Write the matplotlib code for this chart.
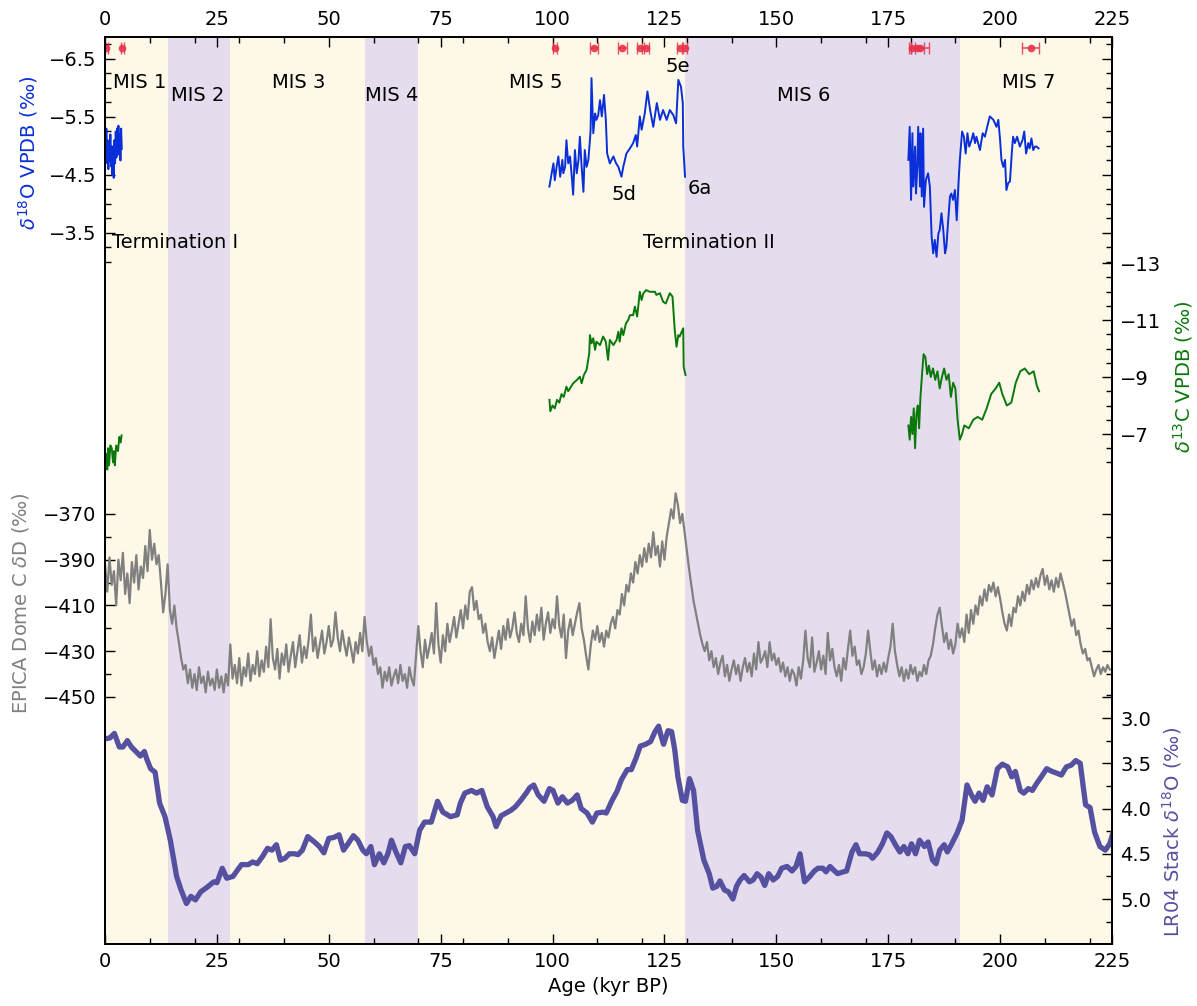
import matplotlib.pyplot as plt
import numpy as np
from matplotlib.ticker import FixedLocator, MultipleLocator, FormatStrFormatter
import matplotlib.transforms as mtrans

# --- speleothem d18O (three growth phases) ---
d18o_age_1 = [0.0, 0.15, 0.3, 0.45, 0.6, 0.75, 0.9, 1.05, 1.2, 1.35, 1.5, 1.65, 1.8, 1.95,
              2.1, 2.25, 2.4, 2.55, 2.7, 2.85, 3.0, 3.15, 3.3, 3.45, 3.6, 3.75]
d18o_val_1 = [-5.0, -4.7, -5.3, -4.8, -5.1, -4.6, -5.0, -4.75, -5.2, -4.65, -5.0, -4.5, -4.9, -4.45,
              -5.1, -4.7, -5.25, -4.8, -5.3, -4.85, -5.35, -4.9, -5.2, -4.75, -5.3, -4.95]
d18o_age_2 = [99.3, 99.8, 100.2, 100.5, 100.9, 101.3, 101.7, 102.2, 102.4, 102.8, 103.1, 103.5,
              103.9, 104.3, 104.6, 105.0, 105.4, 105.8, 106.1, 106.5, 106.9, 107.2, 107.6, 108.0,
              108.35, 108.5, 108.7, 109.1, 109.5, 109.8, 110.2, 110.6, 111.0, 111.5, 111.9, 112.2,
              112.8, 113.6, 114.2, 114.7, 115.4, 115.8, 116.5, 117.3, 118.0, 118.6, 118.9, 119.5,
              119.9, 120.6, 121.2, 121.8, 122.5, 123.3, 124.0, 124.7, 125.5, 126.2, 127.0, 127.6,
              128.1, 128.7, 129.1, 129.2, 129.6]
d18o_val_2 = [-4.30, -4.53, -4.70, -4.41, -4.64, -4.82, -4.47, -4.76, -4.53, -4.64, -5.10, -4.70,
              -4.82, -4.47, -4.16, -4.93, -4.53, -4.76, -5.16, -4.64, -4.21, -4.93, -4.64, -4.76,
              -5.10, -5.28, -6.17, -5.22, -5.56, -5.45, -5.53, -5.79, -5.51, -5.88, -5.45, -4.87,
              -4.70, -4.82, -4.70, -4.64, -4.47, -4.64, -4.87, -4.96, -5.05, -5.19, -4.99, -5.51,
              -5.28, -5.56, -5.94, -5.62, -5.33, -5.74, -5.45, -5.62, -5.45, -5.62, -5.53, -5.39,
              -6.14, -6.02, -5.74, -4.99, -4.47]
d18o_age_3 = [179.5, 179.8, 180.1, 180.4, 180.6, 181.0, 181.2, 181.5, 181.7, 182.1, 182.2, 182.5,
              182.8, 183.0, 183.4, 183.9, 184.3, 184.7, 185.05, 185.4, 185.8, 186.2, 186.5, 186.9,
              187.3, 187.7, 188.0, 188.4, 188.8, 189.1, 189.5, 189.9, 190.3, 190.7, 191.0, 191.5,
              191.9, 192.3, 192.7, 193.1, 193.6, 194.0, 194.4, 194.7, 195.5, 196.1, 196.6, 197.3,
              197.7, 198.5, 199.2, 199.6, 200.0, 200.3, 200.7, 201.1, 201.4, 201.8, 202.2, 202.6,
              202.9, 203.3, 203.8, 204.4, 205.0, 205.4, 205.8, 206.3, 206.6, 207.0, 207.4, 207.8,
              208.1, 208.6]
d18o_val_3 = [-4.76, -5.33, -4.07, -5.22, -4.30, -4.99, -4.18, -4.64, -5.33, -4.30, -5.22, -4.13,
              -5.30, -3.95, -4.41, -4.53, -4.30, -3.44, -3.15, -3.38, -3.09, -3.49, -3.55, -3.84,
              -3.55, -3.15, -3.27, -3.72, -4.13, -4.18, -4.07, -4.24, -3.72, -4.36, -4.76, -5.25,
              -5.16, -4.87, -5.22, -4.99, -5.10, -5.22, -5.05, -5.16, -4.93, -5.22, -5.16, -5.39,
              -5.51, -5.45, -5.33, -5.45, -5.10, -4.76, -4.64, -4.76, -4.24, -4.36, -4.39, -4.87,
              -5.16, -5.05, -5.16, -4.99, -5.10, -5.25, -4.87, -5.05, -4.96, -5.13, -4.93, -4.99,
              -4.99, -4.96]

# --- speleothem d13C ---
d13c_age_1 = [0.4, 0.5, 0.7, 0.9, 1.2, 1.5, 1.8, 2.0, 2.2, 2.5, 2.9, 3.2, 3.5, 3.7]
d13c_val_1 = [-6.3, -5.75, -6.5, -5.9, -6.6, -6.5, -6.0, -6.4, -5.9, -6.6, -6.4, -6.9, -6.7, -6.95]
d13c_age_2 = [99.3, 99.5, 100.0, 100.5, 101.0, 101.5, 102.0, 102.5, 103.1, 103.5, 104.6, 105.4,
              106.1, 106.5, 107.0, 107.6, 108.2, 108.35, 108.7, 109.1, 109.5, 109.8, 110.6, 111.3,
              111.9, 112.4, 112.8, 113.6, 114.3, 114.7, 115.0, 115.4, 115.8, 116.4, 116.9, 117.3,
              118.0, 118.4, 118.9, 119.5, 119.9, 120.3, 120.9, 121.7, 122.9, 123.2, 124.0, 124.7,
              125.3, 126.2, 126.8, 127.3, 127.7, 128.1, 128.4, 129.2, 129.3, 129.7]
d13c_val_2 = [-8.2, -7.8, -8.0, -7.9, -8.2, -8.1, -8.4, -8.3, -8.66, -8.5, -8.78, -8.89,
              -9.01, -8.78, -9.07, -9.25, -9.83, -10.47, -10.18, -10.36, -9.95, -10.24, -10.12, -10.42,
              -10.24, -9.60, -10.30, -10.12, -10.30, -10.59, -10.24, -10.71, -10.47, -10.88, -11.0, -11.17,
              -11.17, -11.47, -11.12, -11.99, -11.70, -11.94, -12.05, -11.99, -11.99, -11.88, -11.94, -11.64,
              -11.58, -11.94, -11.82, -10.65, -10.06, -10.47, -10.42, -10.71, -9.36, -9.07]
d13c_age_3 = [179.5, 179.8, 180.1, 180.4, 180.7, 181.0, 181.3, 181.6, 181.9, 182.2, 182.6, 182.9,
              183.3, 183.7, 184.1, 184.5, 185.0, 185.5, 186.0, 186.5, 187.0, 187.5, 188.0, 188.5,
              189.0, 189.5, 190.0, 190.5, 191.0, 191.5, 192.0, 193.0, 194.0, 195.0, 196.0, 197.0,
              198.0, 199.0, 199.8, 200.5, 201.5, 202.5, 203.5, 204.5, 205.5, 206.5, 207.5, 208.2, 208.7]
d13c_val_3 = [-7.3, -6.8, -7.6, -7.0, -7.9, -6.5, -7.7, -8.0, -7.2, -8.3, -9.2, -9.8,
              -9.7, -9.1, -9.4, -9.0, -9.3, -8.9, -9.2, -8.6, -9.0, -9.3, -8.9, -9.1,
              -8.3, -8.8, -8.6, -7.5, -6.8, -7.0, -7.3, -7.2, -7.5, -7.6, -7.5, -7.9,
              -8.4, -8.6, -8.8, -8.4, -8.0, -8.1, -8.8, -9.2, -9.3, -9.1, -9.2, -8.7, -8.5]

# --- U-Th dates ---
date_age = [0.3, 3.9, 100.6, 109.3, 115.6, 119.6, 120.8, 128.4, 129.5, 180.3, 181.5, 182.0, 206.9]
date_err = [0.3, 0.4, 0.4, 0.9, 1.0, 0.8, 0.8, 0.7, 0.6, 0.7, 1.5, 2.0, 1.9]

# --- EPICA Dome C dD, 0.5 kyr steps from 0 to 224.5 kyr ---
epica_age = np.arange(0, 225, 0.5)
epica_dd = [
    -392, -404, -389, -401, -395, -410, -390, -399, -387, -405,
    -396, -409, -391, -400, -388, -403, -393, -398, -384, -395,
    -377, -390, -383, -392, -388, -400, -413, -405, -392, -412,
    -418, -410, -420, -426, -433, -438, -436, -444, -438, -446,
    -440, -447, -437, -444, -441, -448, -439, -445, -442, -447,
    -438, -446, -441, -448, -440, -445, -427, -442, -436, -444,
    -433, -445, -437, -441, -431, -443, -436, -440, -430, -441,
    -434, -439, -428, -437, -416, -433, -438, -429, -442, -431,
    -436, -427, -439, -432, -426, -437, -430, -423, -435, -428,
    -433, -425, -414, -430, -424, -433, -427, -421, -431, -426,
    -419, -428, -425, -413, -424, -430, -421, -427, -432, -424,
    -429, -435, -426, -431, -422, -430, -415, -426, -432, -428,
    -436, -433, -440, -437, -446, -439, -443, -437, -445, -441,
    -438, -444, -436, -443, -440, -446, -437, -442, -445, -432,
    -419, -430, -437, -425, -433, -428, -422, -431, -409, -427,
    -435, -423, -430, -418, -426, -421, -415, -424, -418, -412,
    -420, -410, -416, -404, -402, -412, -408, -416, -414, -422,
    -418, -426, -430, -424, -433, -427, -421, -429, -419, -425,
    -416, -424, -420, -413, -422, -426, -418, -423, -406, -420,
    -426, -417, -423, -414, -421, -411, -425, -418, -413, -422,
    -416, -420, -406, -419, -424, -414, -433, -421, -416, -423,
    -418, -413, -409, -420, -425, -432, -438, -428, -421, -425,
    -419, -426, -422, -428, -421, -424, -418, -415, -420, -412,
    -414, -405, -410, -401, -404, -396, -400, -391, -396, -388,
    -393, -385, -391, -383, -389, -378, -388, -384, -393, -382,
    -390, -380, -374, -368, -372, -361, -366, -374, -370, -378,
    -386, -394, -401, -408, -413, -418, -423, -427, -430, -426,
    -434, -430, -437, -433, -440, -435, -432, -441, -436, -443,
    -438, -434, -440, -436, -443, -437, -433, -439, -435, -441,
    -431, -438, -426, -435, -433, -430, -437, -426, -434, -431,
    -436, -433, -439, -435, -441, -437, -443, -438, -440, -445,
    -437, -442, -434, -421, -433, -437, -424, -439, -435, -430,
    -438, -432, -440, -422, -434, -429, -437, -441, -436, -443,
    -433, -438, -429, -421, -432, -428, -436, -434, -440, -437,
    -431, -421, -430, -438, -434, -441, -436, -440, -435, -439,
    -433, -428, -418, -430, -436, -441, -437, -443, -438, -442,
    -436, -440, -437, -443, -439, -441, -436, -440, -434, -432,
    -427, -420, -414, -411, -419, -426, -422, -429, -425, -431,
    -427, -418, -424, -420, -426, -414, -422, -412, -418, -410,
    -414, -406, -410, -403, -408, -401, -404, -400, -406, -402,
    -407, -413, -418, -421, -414, -419, -411, -413, -406, -410,
    -404, -408, -401, -405, -399, -403, -398, -402, -397, -394,
    -401, -397, -403, -399, -404, -398, -402, -396, -400, -404,
    -409, -414, -419, -416, -423, -421, -427, -431, -429, -434,
    -433, -437, -441, -438, -436, -440, -437, -439, -436, -438,
]

# --- LR04 benthic stack ---
lr04_age = [0.0, 1.1, 2.1, 3.2, 4.0, 5.0, 5.9, 6.9, 7.9, 8.8, 9.3, 10.2, 11.2, 12.2, 13.4, 14.6,
            16.0, 17.0, 18.2, 19.2, 20.2, 21.4, 22.8, 24.3, 25.0, 26.2, 27.2, 28.6, 29.6, 30.5,
            32.0, 33.0, 34.0, 35.2, 36.3, 37.3, 38.3, 39.2, 40.2, 41.2, 42.4, 43.1, 44.1, 45.3,
            46.8, 47.9, 48.9, 50.0, 51.1, 52.3, 53.3, 54.3, 55.5, 56.5, 57.6, 58.4, 59.4, 60.2,
            61.3, 62.3, 63.2, 64.0, 65.0, 66.1, 67.1, 68.0, 69.2, 70.3, 71.4, 72.9, 74.3, 75.5,
            77.2, 78.7, 79.4, 80.4, 81.9, 83.0, 84.2, 85.4, 86.7, 87.4, 88.5, 89.6, 90.7, 91.7,
            92.9, 94.1, 94.9, 95.8, 96.8, 98.1, 99.3, 100.1, 101.2, 102.2, 103.3, 104.4, 105.5,
            106.4, 107.7, 108.9, 109.9, 111.3, 112.0, 113.2, 114.4, 115.4, 116.7, 117.6, 118.6,
            119.6, 120.8, 121.9, 122.9, 123.7, 124.2, 124.8, 125.8, 126.6, 127.3, 128.0, 129.0,
            129.7, 130.6, 131.5, 132.4, 133.8, 135.0, 135.8, 136.7, 137.4, 138.4, 139.3, 140.3,
            141.1, 141.9, 142.8, 144.0, 144.8, 145.7, 146.6, 147.4, 148.3, 149.3, 150.3, 151.2,
            152.4, 153.5, 154.4, 155.3, 156.3, 157.5, 158.5, 159.3, 160.4, 161.1, 162.0, 162.8,
            163.7, 164.9, 165.7, 166.9, 167.8, 168.6, 169.8, 170.8, 171.5, 172.7, 173.7, 174.7,
            175.6, 176.6, 177.6, 178.5, 179.4, 180.2, 181.1, 182.0, 183.1, 183.9, 184.9, 185.7,
            186.5, 187.5, 188.2, 189.2, 190.4, 191.5, 192.6, 193.6, 194.4, 195.3, 196.2, 197.1,
            198.2, 199.4, 200.5, 201.7, 202.6, 203.4, 204.5, 205.3, 206.3, 207.2, 208.2, 209.2,
            210.4, 211.6, 212.7, 213.7, 214.8, 215.9, 216.9, 217.9, 219.1, 220.1, 221.1, 222.3,
            223.5, 224.5, 225.2]
lr04_d18o = [3.23, 3.22, 3.17, 3.32, 3.32, 3.25, 3.32, 3.37, 3.42, 3.37, 3.45, 3.56, 3.60, 3.94, 4.09, 4.35,
             4.75, 4.90, 5.05, 4.97, 5.01, 4.92, 4.87, 4.81, 4.82, 4.66, 4.77, 4.75, 4.68, 4.62,
             4.62, 4.59, 4.61, 4.53, 4.44, 4.46, 4.40, 4.57, 4.55, 4.50, 4.50, 4.51, 4.46, 4.31,
             4.37, 4.42, 4.49, 4.33, 4.32, 4.29, 4.46, 4.39, 4.30, 4.35, 4.46, 4.50, 4.42, 4.62,
             4.50, 4.60, 4.50, 4.35, 4.48, 4.60, 4.42, 4.41, 4.50, 4.24, 4.15, 4.15, 3.92, 4.04,
             4.09, 4.07, 3.94, 3.83, 3.80, 3.83, 3.80, 3.98, 4.09, 4.20, 4.08, 4.05, 4.02, 3.98,
             3.91, 3.83, 3.77, 3.74, 3.85, 3.92, 3.78, 3.80, 3.94, 3.87, 3.94, 3.91, 3.85,
             4.00, 4.05, 4.15, 4.05, 4.04, 4.05, 3.92, 3.81, 3.68, 3.57, 3.57, 3.45,
             3.31, 3.29, 3.26, 3.15, 3.09, 3.19, 3.29, 3.14, 3.15, 3.35, 3.65, 3.91,
             3.92, 3.67, 3.80, 4.24, 4.57, 4.72, 4.88, 4.86, 4.80, 4.90, 4.92, 5.00,
             4.86, 4.79, 4.74, 4.81, 4.79, 4.72, 4.76, 4.85, 4.72, 4.79, 4.75, 4.66,
             4.64, 4.69, 4.64, 4.50, 4.81, 4.75, 4.69, 4.66, 4.66, 4.70, 4.64, 4.68,
             4.72, 4.70, 4.69, 4.48, 4.40, 4.50, 4.50, 4.51, 4.55, 4.48, 4.39, 4.27,
             4.31, 4.40, 4.48, 4.42, 4.50, 4.39, 4.50, 4.35, 4.42, 4.37, 4.57, 4.61,
             4.46, 4.40, 4.48, 4.39, 4.27, 4.13, 3.74, 3.85, 3.92, 3.83, 3.91, 3.76,
             3.85, 3.56, 3.51, 3.54, 3.65, 3.59, 3.80, 3.83, 3.78, 3.80, 3.72, 3.65,
             3.56, 3.59, 3.61, 3.63, 3.54, 3.52, 3.47, 3.50, 3.96, 3.99, 4.26, 4.42,
             4.46, 4.39, 4.27]

# --- marine isotope stages ---
mis_edges = [0, 14, 28, 58, 70, 129.6, 191, 225]
mis_names = ["MIS 1", "MIS 2", "MIS 3", "MIS 4", "MIS 5", "MIS 6", "MIS 7"]
mis_label_x = [7.8, 20.8, 43.3, 64.1, 96.3, 156.2, 206.3]

col_warm = "#fdf8e7"
col_cold = "#e5ddee"
col_o = "#0a2fd8"
col_c = "#0a780a"
col_dd = "#808080"
col_lr = "#55509f"
col_date = "#e8334a"

plt.rcParams["font.family"] = "DejaVu Sans"
plt.rcParams["font.size"] = 14

fig = plt.figure(figsize=(11.97, 10.06), dpi=100)
ax0 = fig.add_axes([0.08772, 0.06163, 0.84127, 0.90159])
ax1 = ax0.twinx()
ax2 = ax0.twinx()
ax3 = ax0.twinx()

# background stages
for i in range(len(mis_names)):
    c = col_warm if i % 2 == 0 else col_cold
    ax0.axvspan(mis_edges[i], mis_edges[i + 1], color=c, lw=0, zorder=0)

# data
ax0.plot(d18o_age_1, d18o_val_1, color=col_o, lw=1.4)
ax0.plot(d18o_age_2, d18o_val_2, color=col_o, lw=1.4)
ax0.plot(d18o_age_3, d18o_val_3, color=col_o, lw=1.4)
ax0.errorbar(date_age, [-6.69] * len(date_age), xerr=date_err, fmt="o", color=col_date,
             ms=4.5, capsize=4, elinewidth=1.2, alpha=0.85)

ax1.plot(d13c_age_1, d13c_val_1, color=col_c, lw=1.4)
ax1.plot(d13c_age_2, d13c_val_2, color=col_c, lw=1.4)
ax1.plot(d13c_age_3, d13c_val_3, color=col_c, lw=1.4)

ax2.plot(epica_age, epica_dd, color=col_dd, lw=1.6)
ax3.plot(lr04_age, lr04_d18o, color=col_lr, lw=3.8)

# axis limits (each record stacked into its own band)
ax0.set_xlim(0, 225)
ax0.set_ylim(8.759, -6.879)
ax1.set_ylim(10.895, -20.93)
ax2.set_ylim(-558.0, -161.5)
ax3.set_ylim(5.497, -4.525)

ax0.xaxis.set_major_locator(MultipleLocator(25))
ax0.xaxis.set_minor_locator(MultipleLocator(10))
ax0.tick_params(axis="x", which="both", direction="in", top=True, bottom=True,
                labeltop=True, labelbottom=True)

ax0.yaxis.set_major_locator(FixedLocator([-6.5, -5.5, -4.5, -3.5]))
ax0.yaxis.set_minor_locator(FixedLocator(np.arange(-6.75, -2.99, 0.25)))
ax0.tick_params(axis="y", which="both", direction="in", left=True, right=True,
                labelleft=True, labelright=False)

ax1.yaxis.set_major_locator(FixedLocator([-13, -11, -9, -7]))
ax1.yaxis.set_minor_locator(FixedLocator(np.arange(-13, -5.9, 0.5)))
ax1.tick_params(axis="y", which="both", direction="in", left=False, right=True,
                labelleft=False, labelright=True)

ax2.yaxis.set_major_locator(FixedLocator([-370, -390, -410, -430, -450]))
ax2.yaxis.set_minor_locator(FixedLocator(np.arange(-450, -369, 10)))
ax2.tick_params(axis="y", which="both", direction="in", left=True, right=True,
                labelleft=True, labelright=False)

ax3.yaxis.set_major_locator(FixedLocator([3.0, 3.5, 4.0, 4.5, 5.0]))
ax3.yaxis.set_minor_locator(FixedLocator(np.arange(2.75, 5.26, 0.25)))
ax3.yaxis.set_major_formatter(FormatStrFormatter("%.1f"))
ax3.tick_params(axis="y", which="both", direction="in", left=False, right=True,
                labelleft=False, labelright=True)

for a in (ax0, ax1, ax2, ax3):
    a.tick_params(which="major", length=7, width=1, pad=6)
    a.tick_params(which="minor", length=4, width=1)
    for s in a.spines.values():
        s.set_linewidth(1.3)

ax0.set_xlabel("Age (kyr BP)")

# axis labels
fig.text(28 / 1197, 1 - 153 / 1006, r"$\delta^{18}$O VPDB (‰)", color=col_o,
         rotation=90, ha="center", va="center")
fig.text(1183 / 1197, 1 - 377 / 1006, r"$\delta^{13}$C VPDB (‰)", color=col_c,
         rotation=90, ha="center", va="center")
fig.text(21 / 1197, 1 - 603 / 1006, r"EPICA Dome C $\delta$D (‰)", color=col_dd,
         rotation=90, ha="center", va="center")
fig.text(1172 / 1197, 1 - 832 / 1006, r"LR04 Stack $\delta^{18}$O (‰)", color=col_lr,
         rotation=90, ha="center", va="center")

# annotations (x in kyr, y as fraction of the axes height)
tr = mtrans.blended_transform_factory(ax0.transData, ax0.transAxes)
for i, name in enumerate(mis_names):
    yy = 0.9493 if i % 2 == 0 else 0.9355
    ax0.text(mis_label_x[i], yy, name, transform=tr, ha="center", va="center")
ax0.text(127.9, 0.9674, "5e", transform=tr, ha="center", va="center")
ax0.text(116.0, 0.8258, "5d", transform=tr, ha="center", va="center")
ax0.text(132.9, 0.8335, "6a", transform=tr, ha="center", va="center")
ax0.text(1.5, 0.7729, "Termination I", transform=tr, ha="left", va="center")
ax0.text(120.2, 0.7729, "Termination II", transform=tr, ha="left", va="center")

plt.savefig("out.png", dpi=100)
